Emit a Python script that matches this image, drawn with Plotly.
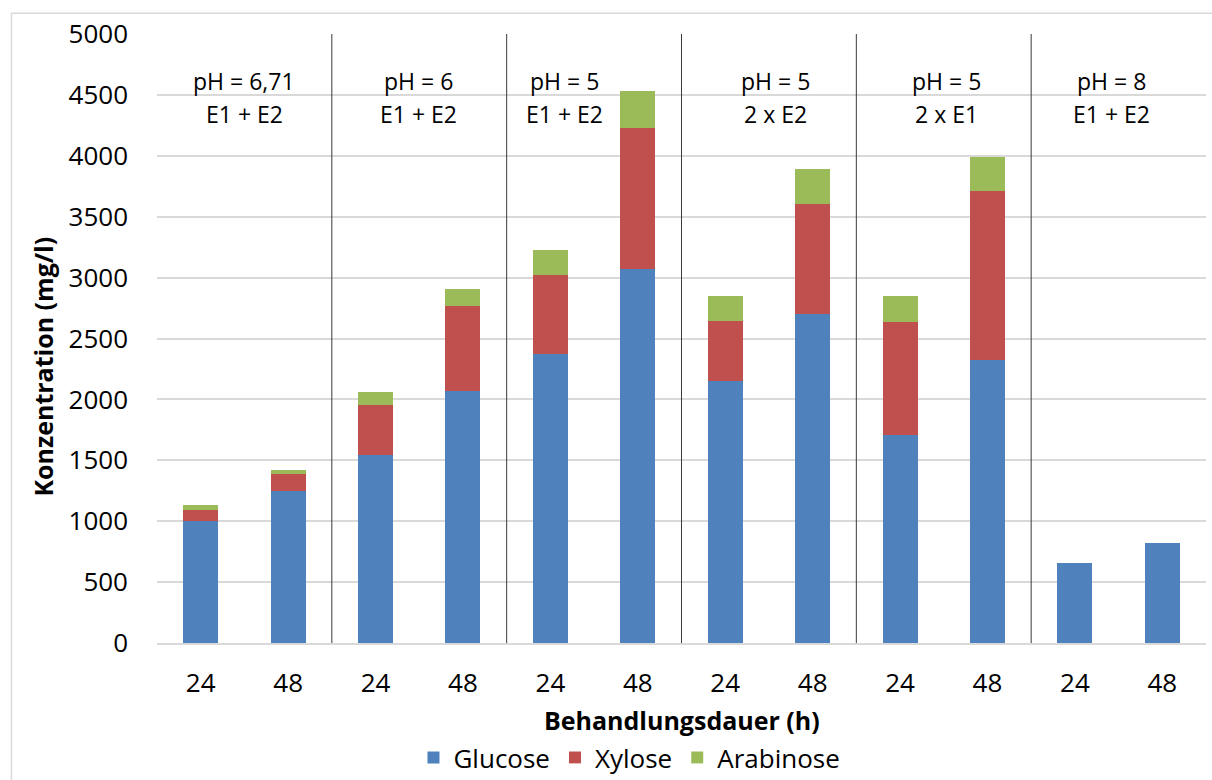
import plotly.graph_objects as go

# Treatment duration per bar (hours)
hours = ["24", "48", "24", "48", "24", "48", "24", "48", "24", "48", "24", "48"]

# Sugar concentrations in mg/l, stacked per bar
glucose = [1000, 1245, 1540, 2065, 2375, 3070, 2150, 2705, 1710, 2325, 655, 820]
xylose = [90, 145, 410, 700, 645, 1160, 490, 900, 925, 1385, 0, 0]
arabinose = [40, 30, 110, 140, 205, 305, 205, 285, 215, 280, 0, 0]

# Treatment condition labels for each pair of bars
ph_labels = ["pH = 6,71", "pH = 6", "pH = 5", "pH = 5", "pH = 5", "pH = 8"]
enzyme_labels = ["E1 + E2", "E1 + E2", "E1 + E2", "2 x E2", "2 x E1", "E1 + E2"]

# Horizontal placement of the condition labels (category units)
label_x = [0.5, 2.49, 4.16, 6.57, 8.53, 10.42]

FONT = "Open Sans"
x = list(range(len(hours)))

fig = go.Figure()
for name, vals, color in [
    ("Glucose", glucose, "#4F81BD"),
    ("Xylose", xylose, "#C0504D"),
    ("Arabinose", arabinose, "#9BBB59"),
]:
    fig.add_trace(go.Bar(x=x, y=vals, name=name, marker=dict(color=color, line=dict(width=0))))

shapes = []
# vertical separators between the condition groups
for k in range(1, 6):
    shapes.append(dict(type="line", xref="x", yref="y", x0=2 * k - 0.5, x1=2 * k - 0.5,
                       y0=0, y1=5000, line=dict(color="#3a3a3a", width=1), layer="above"))
# chart frame
shapes.append(dict(type="rect", xref="paper", yref="paper", x0=-0.1387, x1=1.2, y0=-0.6, y1=1.034,
                   line=dict(color="#d9d9d9", width=1.5), layer="below"))

annotations = []
for lx, ph, enz in zip(label_x, ph_labels, enzyme_labels):
    annotations.append(dict(x=lx, y=4615, xref="x", yref="y", text=ph, showarrow=False,
                            font=dict(family=FONT, size=23, color="#000000")))
    annotations.append(dict(x=lx, y=4345, xref="x", yref="y", text=enz, showarrow=False,
                            font=dict(family=FONT, size=23, color="#000000")))
annotations.append(dict(x=0.5, y=-0.127, xref="paper", yref="paper", xanchor="center", yanchor="middle",
                        text="<b>Behandlungsdauer (h)</b>",
                        showarrow=False, font=dict(family=FONT, size=25, color="#000000")))
annotations.append(dict(x=-0.1087, y=0.454, xref="paper", yref="paper", xanchor="center", yanchor="middle",
                        text="<b>Konzentration (mg/l)</b>",
                        textangle=-90, showarrow=False, font=dict(family=FONT, size=25, color="#000000")))

fig.update_layout(
    width=1212, height=780,
    margin=dict(l=157, r=6, t=34, b=137, autoexpand=False),
    paper_bgcolor="white", plot_bgcolor="white",
    barmode="stack", bargap=0.6,
    font=dict(family=FONT, size=26, color="#000000"),
    shapes=shapes, annotations=annotations,
    legend=dict(orientation="h", x=0.4504, xanchor="center", y=-0.188, yanchor="middle",
                traceorder="normal",
                font=dict(family=FONT, size=26, color="#000000"), bgcolor="rgba(0,0,0,0)"),
    xaxis=dict(tickmode="array", tickvals=x, ticktext=hours, range=[-0.5, 11.5],
               showgrid=False, zeroline=False, showline=True, linecolor="#d9d9d9", linewidth=1.5,
               ticks="", ticklabelstandoff=16, tickfont=dict(family=FONT, size=26)),
    yaxis=dict(range=[0, 5000], tickmode="linear", tick0=0, dtick=500,
               showgrid=True, gridcolor="#d9d9d9", gridwidth=1.5, zeroline=False, showline=False,
               ticks="", ticklabelstandoff=28, tickfont=dict(family=FONT, size=26)),
)

fig.write_html("out.html")
